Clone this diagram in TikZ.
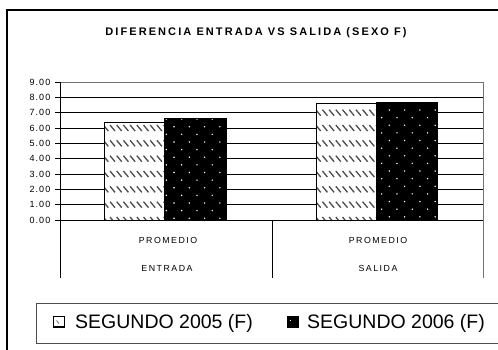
\documentclass[tikz,border=0pt]{standalone}
\usepackage{fontspec}
\setmainfont{Liberation Sans}
\newcommand\titlefont{\fontsize{11}{13}\selectfont\bfseries\addfontfeatures{LetterSpace=19}}
\newcommand\tickfont{\fontsize{9}{10}\selectfont\addfontfeatures{LetterSpace=12}}
\newcommand\catfont{\fontsize{8.8}{10}\selectfont\addfontfeatures{LetterSpace=17}}
\newcommand\legfont{\fontsize{19.5}{22}\selectfont}
% hatched bar: left, right, top
\newcommand\myhatchbar[3]{%
  \fill[white] (#1,#3) rectangle (#2,220);
  \begin{scope}
    \clip (#1,#3) rectangle (#2,220);
    \foreach \k in {0,...,9}{
      \foreach \i in {0,...,9}{
        \draw[hatch] (#1-1+\i*6.7, 217-\k*15.333) -- ++(5,6);
      }
    }
  \end{scope}
  \draw[barline] (#1,220) -- (#1,#3) -- (#2,#3) -- (#2,220);
}
% dotted black bar: left, right, top, x of first dot, y of first non-offset row
\newcommand\mydotbar[5]{%
  \fill[black] (#1,#3) rectangle (#2,220);
  \begin{scope}
    \clip (#1,#3) rectangle (#2,220);
    \foreach \j in {-4,...,16}{
      \foreach \i in {-1,...,5}{
        \pgfmathsetmacro\xo{#4+\i*15.3-(isodd(\j)*7.65)}
        \fill[white] (\xo, #5+\j*7.63) circle (0.8);
      }
    }
  \end{scope}
  \draw[barline] (#1,220) -- (#1,#3) -- (#2,#3) -- (#2,220);
}
\begin{document}
\begin{tikzpicture}[x=1pt,y=-1pt,
  grid/.style={line width=0.8pt,black},
  frameline/.style={line width=0.8pt,black!55},
  axisline/.style={line width=1pt,black},
  barline/.style={line width=1.3pt,black},
  hatch/.style={line width=1.3pt,black!70},
  ticklabel/.style={font=\tickfont,anchor=east,inner sep=0pt},
  catlabel/.style={font=\catfont,anchor=base,inner sep=0pt},
  leglabel/.style={font=\legfont,anchor=base west,inner sep=0pt},
  legbox/.style={line width=1pt,black!70}]
\useasboundingbox (0,0) rectangle (498,349);
\fill[white] (0,0) rectangle (498,349);
% outer chart frame
\draw[line width=1.3pt] (7,10) rectangle (530,380);
% title
\node[font=\titlefont,anchor=base,inner sep=0pt] (title) at (256,35) {DIFERENCIA ENTRADA VS SALIDA (SEXO F)};
% gridlines and ticks
\foreach \v in {0,...,9}{
  \draw[grid] (55,220-\v*15.333) -- (483,220-\v*15.333);
  \node[ticklabel] (t\v) at (50.5,220-\v*15.333) {\v.00};
}
% plot area frame
\draw[frameline] (60,82) -- (483,82) -- (483,278);
% bars
\myhatchbar{104.3}{164.3}{122.7}
\mydotbar{164.3}{226}{118.3}{174}{126.7}
\myhatchbar{316.7}{376.7}{103.3}
\mydotbar{376.7}{437.7}{102.3}{389.3}{110}
% axes
\draw[axisline] (60,82) -- (60,278);
\draw[axisline] (60,220) -- (483,220);
\draw[axisline] (272,220) -- (272,278);
% category labels
\node[catlabel] (p1) at (168,243) {PROMEDIO};
\node[catlabel] (c1) at (167,271.7) {ENTRADA};
\node[catlabel] (p2) at (378,243) {PROMEDIO};
\node[catlabel] (c2) at (378,271.7) {SALIDA};
% legend
\draw[legbox] (36.7,303) rectangle (530,343);
\draw[line width=1.2pt,fill=white] (53.5,316.5) rectangle (64.5,327);
\draw[line width=0.8pt,black!60] (56.5,320.5) -- (59,323.5);
\node[leglabel] (l1) at (75,328) {SEGUNDO 2005 (F)};
\draw[line width=1pt,fill=black] (287,316.5) rectangle (298,327);
\fill[white] (290.5,320.5) circle (0.7);
\node[leglabel] (l2) at (307,328) {SEGUNDO 2006 (F)};
\end{tikzpicture}
\end{document}
